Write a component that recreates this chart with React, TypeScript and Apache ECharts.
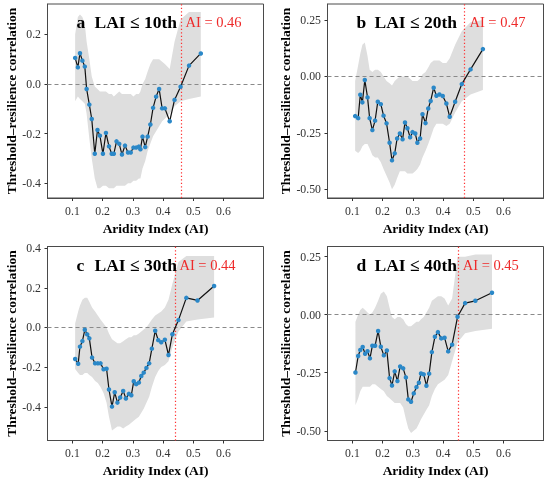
import React, { useEffect, useRef } from "react";
import * as echarts from "echarts";

// ---------- data ----------
const xA = [0.109,0.118,0.125,0.133,0.141,0.147,0.156,0.164,0.174,0.183,0.191,0.201,0.211,0.221,0.230,0.237,0.246,0.255,0.264,0.274,0.284,0.293,0.302,0.311,0.320,0.325,0.332,0.341,0.349,0.358,0.367,0.377,0.387,0.397,0.406,0.422,0.438,0.458,0.486,0.525];
const yA = [0.105,0.067,0.124,0.094,0.070,-0.020,-0.083,-0.141,-0.281,-0.185,-0.208,-0.281,-0.197,-0.251,-0.281,-0.281,-0.231,-0.241,-0.284,-0.248,-0.276,-0.276,-0.256,-0.256,-0.252,-0.263,-0.212,-0.254,-0.212,-0.163,-0.096,-0.051,-0.020,-0.098,-0.098,-0.150,-0.064,-0.011,0.074,0.123];
const hiA = [0.20,0.27,0.28,0.27,0.24,0.17,0.10,0.03,-0.01,-0.02,-0.03,-0.03,-0.03,-0.04,-0.04,-0.05,-0.04,-0.03,-0.04,-0.04,-0.04,-0.04,-0.05,-0.04,-0.04,-0.03,0.00,0.02,0.05,0.08,0.10,0.10,0.10,0.09,0.08,0.06,0.17,0.26,0.29,0.29];
const loA = [-0.07,-0.05,-0.06,-0.07,-0.08,-0.12,-0.22,-0.30,-0.38,-0.42,-0.42,-0.41,-0.41,-0.42,-0.42,-0.42,-0.41,-0.41,-0.41,-0.41,-0.40,-0.40,-0.39,-0.39,-0.38,-0.38,-0.34,-0.31,-0.27,-0.24,-0.21,-0.19,-0.17,-0.15,-0.14,-0.12,-0.09,-0.07,-0.06,-0.05];

const xB = [0.109,0.119,0.126,0.133,0.141,0.150,0.157,0.166,0.175,0.184,0.194,0.203,0.213,0.223,0.231,0.240,0.248,0.257,0.266,0.274,0.282,0.291,0.299,0.308,0.315,0.324,0.332,0.342,0.351,0.359,0.369,0.378,0.388,0.399,0.411,0.422,0.440,0.462,0.491,0.532];
const yB = [-0.176,-0.185,-0.081,-0.115,-0.016,-0.093,-0.185,-0.238,-0.196,-0.112,-0.123,-0.174,-0.208,-0.294,-0.372,-0.341,-0.275,-0.253,-0.279,-0.204,-0.230,-0.270,-0.247,-0.253,-0.294,-0.275,-0.168,-0.207,-0.142,-0.109,-0.050,-0.086,-0.080,-0.087,-0.120,-0.179,-0.112,-0.034,0.031,0.121];
const hiB = [-0.02,0.05,0.10,0.14,0.15,0.09,0.03,0.02,0.03,0.03,0.02,0.00,-0.02,-0.03,-0.04,-0.02,-0.01,0.00,0.00,0.00,0.00,-0.01,-0.02,-0.02,-0.02,-0.01,0.01,0.02,0.04,0.06,0.07,0.07,0.07,0.06,0.06,0.08,0.14,0.20,0.24,0.25];
const loB = [-0.33,-0.34,-0.33,-0.31,-0.30,-0.30,-0.32,-0.35,-0.36,-0.36,-0.38,-0.41,-0.44,-0.47,-0.50,-0.48,-0.45,-0.42,-0.42,-0.42,-0.43,-0.43,-0.43,-0.42,-0.41,-0.39,-0.36,-0.33,-0.30,-0.27,-0.23,-0.21,-0.21,-0.21,-0.22,-0.21,-0.16,-0.11,-0.08,-0.06];

const xC = [0.109,0.119,0.125,0.133,0.141,0.149,0.156,0.165,0.175,0.184,0.193,0.203,0.213,0.221,0.231,0.240,0.249,0.258,0.268,0.277,0.287,0.295,0.303,0.311,0.320,0.328,0.336,0.345,0.354,0.363,0.374,0.384,0.394,0.406,0.418,0.431,0.451,0.477,0.514,0.569];
const yC = [-0.159,-0.183,-0.097,-0.069,-0.012,-0.035,-0.055,-0.152,-0.181,-0.181,-0.181,-0.211,-0.208,-0.313,-0.399,-0.327,-0.379,-0.353,-0.320,-0.358,-0.335,-0.342,-0.271,-0.286,-0.278,-0.245,-0.228,-0.204,-0.181,-0.107,-0.017,-0.064,-0.075,-0.062,-0.139,-0.034,0.037,0.149,0.136,0.209];
const hiC = [0.02,0.08,0.11,0.14,0.15,0.15,0.13,0.10,0.08,0.06,0.04,0.02,0.00,-0.03,-0.06,-0.07,-0.08,-0.08,-0.07,-0.06,-0.05,-0.05,-0.04,-0.04,-0.03,-0.02,-0.01,0.00,0.02,0.04,0.06,0.07,0.08,0.10,0.14,0.22,0.33,0.36,0.36,0.36];
const loC = [-0.21,-0.23,-0.24,-0.24,-0.23,-0.23,-0.24,-0.25,-0.27,-0.28,-0.30,-0.33,-0.38,-0.45,-0.52,-0.51,-0.50,-0.50,-0.51,-0.50,-0.49,-0.48,-0.47,-0.46,-0.45,-0.43,-0.41,-0.38,-0.35,-0.30,-0.25,-0.22,-0.20,-0.19,-0.17,-0.10,-0.02,0.03,0.04,0.05];

const xD = [0.110,0.119,0.126,0.134,0.142,0.150,0.158,0.166,0.175,0.185,0.194,0.204,0.214,0.223,0.231,0.240,0.249,0.258,0.268,0.277,0.285,0.294,0.303,0.312,0.320,0.327,0.336,0.345,0.354,0.363,0.373,0.383,0.394,0.405,0.417,0.430,0.448,0.473,0.507,0.562];
const yD = [-0.249,-0.178,-0.152,-0.139,-0.168,-0.157,-0.188,-0.134,-0.134,-0.070,-0.138,-0.175,-0.154,-0.273,-0.305,-0.244,-0.286,-0.223,-0.231,-0.270,-0.365,-0.375,-0.339,-0.312,-0.293,-0.253,-0.257,-0.306,-0.254,-0.161,-0.095,-0.075,-0.102,-0.099,-0.158,-0.129,-0.009,0.050,0.060,0.095];
const hiD = [-0.03,0.00,0.02,0.03,0.02,0.01,0.00,0.01,0.03,0.06,0.09,0.10,0.08,0.03,-0.01,-0.02,-0.01,-0.01,-0.02,-0.04,-0.05,-0.05,-0.04,-0.03,-0.03,-0.02,-0.01,0.01,0.03,0.06,0.07,0.08,0.08,0.07,0.04,0.07,0.25,0.25,0.26,0.26];
const loD = [-0.39,-0.36,-0.33,-0.31,-0.31,-0.31,-0.31,-0.30,-0.30,-0.31,-0.32,-0.33,-0.35,-0.36,-0.37,-0.38,-0.38,-0.38,-0.40,-0.45,-0.49,-0.51,-0.50,-0.49,-0.47,-0.45,-0.43,-0.41,-0.39,-0.35,-0.32,-0.30,-0.29,-0.28,-0.26,-0.20,-0.12,-0.08,-0.07,-0.06];

const xTicks = [0.1, 0.2, 0.3, 0.4, 0.5, 0.6];
const yTicksA = [-0.4, -0.2, 0, 0.2];
const yTicksB = [-0.5, -0.25, 0, 0.25];
const yTicksC = [-0.4, -0.2, 0, 0.2, 0.4];
const yTicksD = [-0.5, -0.25, 0, 0.25];
const thresholds = [0.461, 0.474, 0.441, 0.452];
const letters = ["a", "b", "c", "d"];
const percentiles = ["10th", "20th", "30th", "40th"];
const aiLabels = ["AI = 0.46", "AI = 0.47", "AI = 0.44", "AI = 0.45"];

const FONT = "'Liberation Serif', 'Times New Roman', Times, serif";

export default function App() {
  const ref = useRef<HTMLDivElement>(null);

  useEffect(() => {
    const chart = echarts.init(ref.current!, null, { renderer: "svg" });

    const panels = [
      { x: xA, y: yA, lo: loA, hi: hiA, yMin: -0.459, yMax: 0.322, ticks: yTicksA, dec: 1 },
      { x: xB, y: yB, lo: loB, hi: hiB, yMin: -0.539, yMax: 0.321, ticks: yTicksB, dec: 2 },
      { x: xC, y: yC, lo: loC, hi: hiC, yMin: -0.570, yMax: 0.408, ticks: yTicksC, dec: 1 },
      { x: xD, y: yD, lo: loD, hi: hiD, yMin: -0.542, yMax: 0.294, ticks: yTicksD, dec: 2 },
    ];

    const layout = [
      { left: 47.5, top: 4 },
      { left: 327.5, top: 4 },
      { left: 47.5, top: 246.5 },
      { left: 327.5, top: 246.5 },
    ];

    const axisColor = "#333";
    const labelColor = "#333";

    const option: any = {
      animation: false,
      grid: layout.map((l) => ({
        left: l.left,
        top: l.top,
        width: 216,
        height: 194,
        show: true,
        borderColor: "#4a4a4a",
        borderWidth: 1,
        backgroundColor: "transparent",
        containLabel: false,
        outerBoundsMode: "none",
      })),
      xAxis: panels.map((p, i) => ({
        type: "value",
        gridIndex: i,
        min: 0.0175,
        max: 0.7325,
        name: "Aridity Index (AI)",
        nameLocation: "middle",
        nameGap: i < 2 ? 23 : 22.5,
        nameTextStyle: { fontFamily: FONT, fontWeight: "bold", fontSize: 13.5, color: "#000" },
        axisLine: { show: true, onZero: false, lineStyle: { color: "#4a4a4a", width: 1 } },
        axisTick: { show: true, inside: false, length: 3, customValues: xTicks, lineStyle: { color: axisColor } },
        axisLabel: {
          customValues: xTicks,
          formatter: (v: number) => v.toFixed(1),
          margin: 6.5,
          fontFamily: FONT,
          fontSize: 11.8,
          color: labelColor,
        },
        splitLine: { show: false },
      })),
      yAxis: panels.map((p, i) => ({
        type: "value",
        gridIndex: i,
        min: p.yMin,
        max: p.yMax,
        name: "Threshold–resilience correlation",
        nameLocation: "middle",
        nameGap: 25.5,
        nameTextStyle: { fontFamily: FONT, fontWeight: "bold", fontSize: 13.5, color: "#000" },
        axisLine: { show: true, onZero: false, lineStyle: { color: "#4a4a4a", width: 1 } },
        axisTick: { show: true, inside: false, length: 3, customValues: p.ticks, lineStyle: { color: axisColor } },
        axisLabel: {
          customValues: p.ticks,
          formatter: (v: number) => v.toFixed(p.dec),
          margin: 6.5,
          fontFamily: FONT,
          fontSize: 11.8,
          color: labelColor,
        },
        splitLine: { show: false },
      })),
      series: panels.flatMap((p, i) => [
        {
          type: "custom",
          xAxisIndex: i,
          yAxisIndex: i,
          silent: true,
          z: 1,
          data: [[p.x[0], p.lo[0]]],
          renderItem: (_params: any, api: any) => {
            const top = p.x.map((x, j) => api.coord([x, p.hi[j]]));
            const bot = p.x.map((x, j) => api.coord([x, p.lo[j]])).reverse();
            return {
              type: "polygon",
              shape: { points: top.concat(bot) },
              style: { fill: "#dedede" },
            };
          },
        },
        {
          type: "line",
          xAxisIndex: i,
          yAxisIndex: i,
          z: 3,
          silent: true,
          data: p.x.map((x, j) => [x, p.y[j]]),
          symbol: "circle",
          symbolSize: 4.5,
          showSymbol: true,
          showAllSymbol: true,
          itemStyle: { color: "#2b88c8" },
          lineStyle: { color: "#111", width: 1.2 },
          markLine: {
            silent: true,
            z: 2,
            symbol: ["none", "none"],
            label: { show: false },
            animation: false,
            data: [
              { yAxis: 0, lineStyle: { color: "#8a8a8a", type: [4, 3], width: 1 } },
              { xAxis: thresholds[i], lineStyle: { color: "#ff3030", type: [1.3, 2.2], width: 1.2 } },
            ],
          },
        },
      ]),
    };

    chart.setOption(option);

    const graphic: any[] = [];
    panels.forEach((_p, i) => {
      const dx = i % 2 ? 280 : 0;
      const dy = i >= 2 ? 242.7 : 0;
      const cy = 22 + dy;
      graphic.push({
        type: "text",
        z: 100,
        x: 76.5 + dx,
        y: cy,
        style: { text: letters[i], fontFamily: FONT, fontWeight: "bold", fontSize: 17.5, fill: "#000", verticalAlign: "middle", align: "left" },
      });
      graphic.push({
        type: "text",
        z: 100,
        x: 94.5 + dx,
        y: cy,
        style: { text: "LAI ≤ " + percentiles[i], fontFamily: FONT, fontWeight: "bold", fontSize: 17.5, fill: "#000", verticalAlign: "middle", align: "left" },
      });
      const px = chart.convertToPixel({ xAxisIndex: i } as any, thresholds[i]) as unknown as number;
      graphic.push({
        type: "text",
        z: 100,
        x: px + 4,
        y: cy,
        style: { text: aiLabels[i], fontFamily: FONT, fontSize: 14.5, fill: "#ee2a2a", verticalAlign: "middle", align: "left" },
      });
    });
    chart.setOption({ graphic });

    return () => chart.dispose();
  }, []);

  return <div ref={ref} style={{ position: "fixed", left: 0, top: 0, width: 550, height: 480 }} />;
}
